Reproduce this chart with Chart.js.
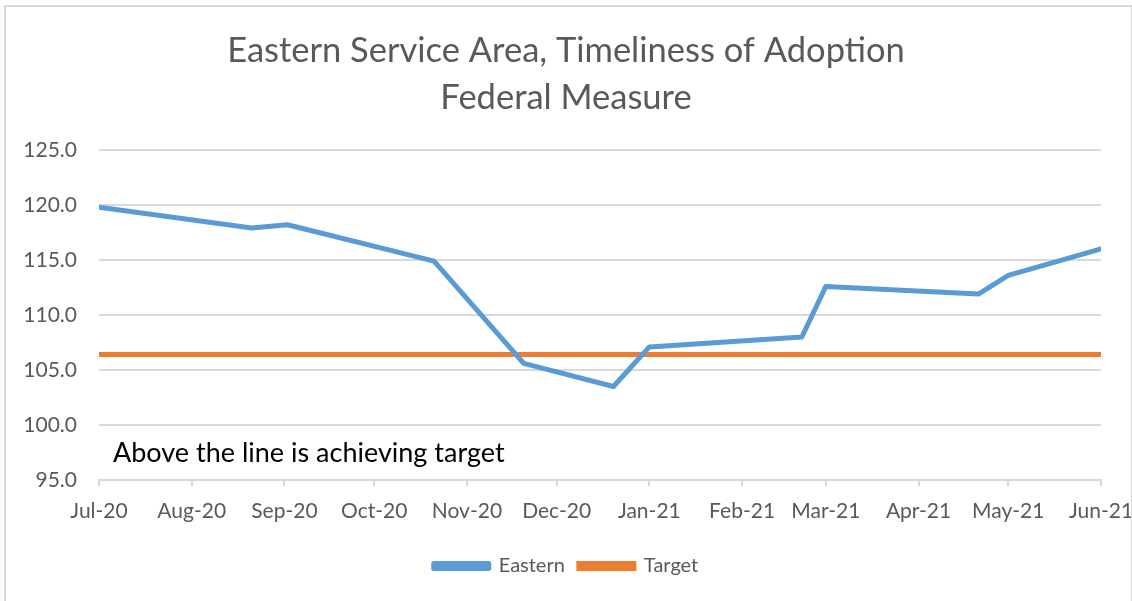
<!DOCTYPE html>
<html>
<head>
<meta charset="utf-8">
<script src="https://cdn.jsdelivr.net/npm/chart.js@4/dist/chart.umd.min.js"></script>
<style>
  html, body { margin: 0; padding: 0; background: #fff; }
  #wrap { position: relative; width: 1132px; height: 601px; overflow: hidden; }
  #frame { position: absolute; left: 4px; top: 5px; width: 1125px; height: 620px; border: 2px solid #d9d9d9; pointer-events: none; }
</style>
</head>
<body>
<div id="wrap">
  <canvas id="chart" width="1132" height="601"></canvas>
  <div id="frame"></div>
</div>
<script>
const titleLines = ['Eastern Service Area, Timeliness of Adoption', 'Federal Measure'];
const pointDates = ['2020-07-01', '2020-08-21', '2020-09-02', '2020-10-21', '2020-11-20', '2020-12-20',
                    '2021-01-01', '2021-02-21', '2021-03-01', '2021-04-21', '2021-05-01', '2021-06-01'];
const easternValues = [119.8, 117.9, 118.2, 114.9, 105.6, 103.5, 107.1, 108.0, 112.6, 111.9, 113.6, 116.0];
const targetValues = [106.4, 106.4, 106.4, 106.4, 106.4, 106.4, 106.4, 106.4, 106.4, 106.4, 106.4, 106.4];
const tickDates = ['2020-07-01', '2020-08-01', '2020-09-01', '2020-10-01', '2020-11-01', '2020-12-01',
                   '2021-01-01', '2021-02-01', '2021-03-01', '2021-04-01', '2021-05-01', '2021-06-01'];
const tickLabels = ['Jul-20', 'Aug-20', 'Sep-20', 'Oct-20', 'Nov-20', 'Dec-20',
                    'Jan-21', 'Feb-21', 'Mar-21', 'Apr-21', 'May-21', 'Jun-21'];
const noteText = 'Above the line is achieving target';

const grey = '#595959';
const gridGrey = '#d9d9d9';
const fontFamily = 'Lato, "Open Sans", sans-serif';

// days since the first date, so the x axis is spaced like a date axis
function dayOf(dateStr) {
    const start = Date.UTC(2020, 6, 1);
    const [y, m, d] = dateStr.split('-').map(Number);
    return Math.round((Date.UTC(y, m - 1, d) - start) / 86400000);
}

const tickDays = tickDates.map(dayOf);

function pairs(values) {
    return pointDates.map((d, i) => ({ x: dayOf(d), y: values[i] }));
}

const notePlugin = {
    id: 'note',
    afterDatasetsDraw(chart) {
        const { ctx, chartArea } = chart;
        ctx.save();
        ctx.font = '27px ' + fontFamily;
        ctx.fillStyle = '#000';
        ctx.textBaseline = 'alphabetic';
        ctx.textAlign = 'left';
        ctx.fillText(noteText, chartArea.left + 14, chartArea.bottom - 18);
        ctx.restore();
    }
};

new Chart(document.getElementById('chart'), {
    type: 'line',
    data: {
        datasets: [
            {
                label: 'Eastern',
                data: pairs(easternValues),
                borderColor: '#5b9bd5',
                backgroundColor: '#5b9bd5',
                borderWidth: 5,
                borderJoinStyle: 'round',
                borderCapStyle: 'round',
                pointRadius: 0,
                tension: 0
            },
            {
                label: 'Target',
                data: pairs(targetValues),
                borderColor: '#ed7d31',
                backgroundColor: '#ed7d31',
                borderWidth: 5,
                pointRadius: 0,
                tension: 0
            }
        ]
    },
    options: {
        responsive: false,
        animation: false,
        layout: { padding: { left: 0, right: 0, top: 0, bottom: 15 } },
        plugins: {
            title: {
                display: true,
                text: titleLines,
                color: grey,
                font: { family: fontFamily, size: 34.5, weight: 'normal', lineHeight: 1.362 },
                padding: { top: 27, bottom: 29 }
            },
            legend: {
                position: 'bottom',
                labels: {
                    color: grey,
                    font: { family: fontFamily, size: 20 },
                    boxWidth: 55,
                    boxHeight: 5,
                    padding: 14
                }
            },
            tooltip: { enabled: false }
        },
        scales: {
            x: {
                type: 'linear',
                min: tickDays[0],
                max: tickDays[tickDays.length - 1],
                afterBuildTicks(scale) {
                    scale.ticks = tickDays.map(v => ({ value: v }));
                },
                afterFit(scale) {
                    scale.height = 62;
                    scale.paddingLeft = 0;
                    scale.paddingRight = 31;
                },
                ticks: {
                    autoSkip: false,
                    maxRotation: 0,
                    color: grey,
                    padding: 13,
                    font: { family: fontFamily, size: 21 },
                    callback(value) {
                        return tickLabels[tickDays.indexOf(value)];
                    }
                },
                grid: {
                    drawOnChartArea: false,
                    drawTicks: true,
                    tickLength: 6,
                    color: gridGrey,
                    lineWidth: 2
                },
                border: { display: true, color: gridGrey, width: 2 }
            },
            y: {
                min: 95,
                max: 125,
                afterFit(scale) {
                    scale.width = 99;
                    scale.paddingTop = 0;
                    scale.paddingBottom = 0;
                },
                ticks: {
                    stepSize: 5,
                    color: grey,
                    padding: 22,
                    font: { family: fontFamily, size: 21 },
                    callback: value => value.toFixed(1)
                },
                grid: { color: gridGrey, lineWidth: 2, drawTicks: false },
                border: { display: false }
            }
        }
    },
    plugins: [notePlugin]
});
</script>
</body>
</html>
